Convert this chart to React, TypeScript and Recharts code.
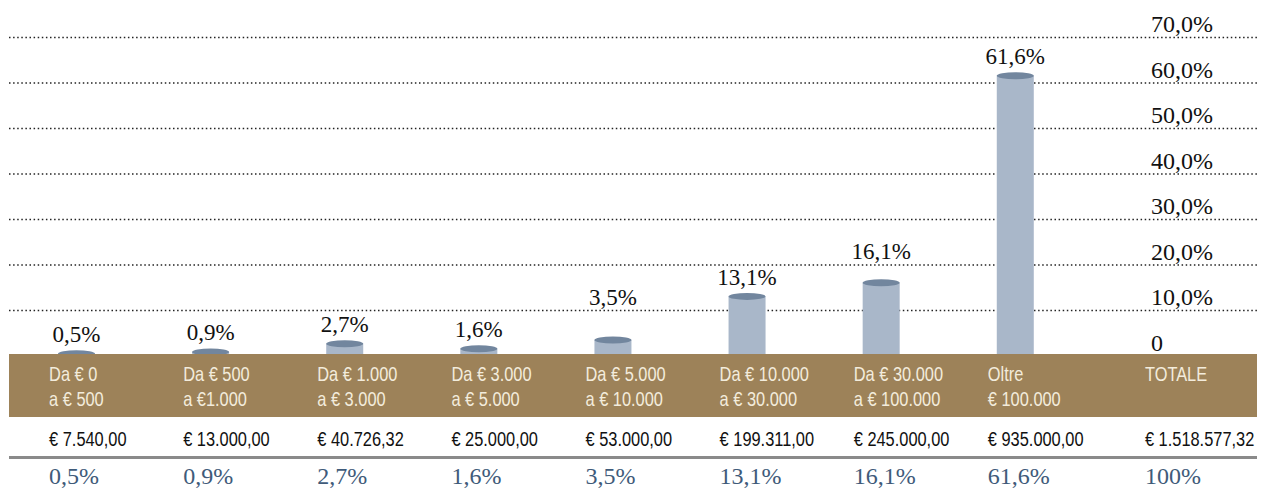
import { BarChart, Bar, XAxis, YAxis, CartesianGrid, ReferenceArea, LabelList } from 'recharts'

// ranges, amounts and shares
const rangeLines = [
  ['Da € 0', 'a € 500'],
  ['Da € 500', 'a €1.000'],
  ['Da € 1.000', 'a € 3.000'],
  ['Da € 3.000', 'a € 5.000'],
  ['Da € 5.000', 'a € 10.000'],
  ['Da € 10.000', 'a € 30.000'],
  ['Da € 30.000', 'a € 100.000'],
  ['Oltre', '€ 100.000'],
  ['TOTALE', ''],
]
const amounts = [
  '€ 7.540,00', '€ 13.000,00', '€ 40.726,32', '€ 25.000,00', '€ 53.000,00',
  '€ 199.311,00', '€ 245.000,00', '€ 935.000,00', '€ 1.518.577,32',
]
const shares = [0.5, 0.9, 2.7, 1.6, 3.5, 13.1, 16.1, 61.6, 100]
const isTotal = [false, false, false, false, false, false, false, false, true]
const yTicks = [0, 10, 20, 30, 40, 50, 60, 70]

const rows = rangeLines.map((l, i) => ({
  name: l.join(' '),
  share: isTotal[i] ? null : shares[i],
}))

// layout (pixels)
const W = 1261
const H = 488
const Y_TOP = 37.5
const Y_ZERO = 356
const PLOT_BOTTOM = 462
const PX = (Y_ZERO - Y_TOP) / 70
const valueAt = (py: number) => (Y_ZERO - py) / PX
const pyOf = (v: number) => Y_ZERO - v * PX

const SERIF = '"Liberation Serif", "Times New Roman", serif'
const SANS = '"Liberation Sans", Arial, sans-serif'
const BAND = '#9d8259'
const BAR_BODY = '#a9b7c9'
const BAR_TOP = '#72869e'

const pct = (v: number) => (v === 100 ? '100%' : v.toFixed(1).replace('.', ',') + '%')

function Cylinder(props: any) {
  const { x, y, width, height } = props
  if (!height || height <= 0) return null
  const ry = 3.5
  return (
    <g>
      <rect x={x} y={y} width={width} height={height} fill={BAR_BODY} />
      <ellipse cx={x + width / 2} cy={y} rx={width / 2} ry={ry} fill={BAR_TOP} />
    </g>
  )
}

function BarValue(props: any) {
  const { x, y, width, value } = props
  if (value == null) return null
  let base = y - 11.5
  // keep the label off the dotted lines
  for (const t of yTicks) {
    const gy = pyOf(t)
    if (gy > base - 15 - 4 && gy < base + 3) base = gy - 6
  }
  return (
    <text x={x + width / 2} y={base} textAnchor="middle" fontFamily={SERIF} fontSize={23} fill="#111">
      {pct(value)}
    </text>
  )
}

function YTick(props: any) {
  const { x, y, payload } = props
  const v = payload.value
  return (
    <text x={x - 106} y={y - 5.5} fontFamily={SERIF} fontSize={24} fill="#111">
      {v === 0 ? '0' : v.toFixed(1).replace('.', ',') + '%'}
    </text>
  )
}

// condensed sans text (no narrow face installed, so squeeze Liberation Sans)
function Narrow({ x, y, fill, children }: { x: number; y: number; fill: string; children: string }) {
  return (
    <text transform={`translate(${x},${y}) scale(0.8,1)`} fontFamily={SANS} fontSize={20.5} fill={fill}>
      {children}
    </text>
  )
}

function ColumnTick(props: any) {
  const { x, y, index } = props
  const x0 = x - 27 + (isTotal[index] ? 23 : 0)
  const [l1, l2] = rangeLines[index]
  return (
    <g>
      <Narrow x={x0} y={y - 81} fill="#f3ecdc">{l1}</Narrow>
      <Narrow x={x0} y={y - 56} fill="#f3ecdc">{l2}</Narrow>
      <Narrow x={x0} y={y - 16} fill="#111">{amounts[index]}</Narrow>
      <text x={x0} y={y + 22} fontFamily={SERIF} fontSize={24} fill="#3f5b7a">{pct(shares[index])}</text>
    </g>
  )
}

export default function App() {
  return (
    <div style={{ position: 'absolute', left: 0, top: 0, width: W, height: H, background: '#fff' }}>
      <BarChart width={W} height={H} data={rows} margin={{ top: Y_TOP, right: 3, left: 9, bottom: 0 }} barSize={37}>
        <CartesianGrid vertical={false} horizontalPoints={yTicks.map(pyOf)}
          stroke="#222" strokeWidth={1.5} strokeDasharray="1.5 2.6" />
        <XAxis dataKey="name" interval={0} axisLine={false} tickLine={false} tickSize={0} tickMargin={0}
          height={H - PLOT_BOTTOM} padding={{ left: 0, right: 41 }} tick={<ColumnTick />} />
        <XAxis xAxisId="full" type="number" domain={[0, 1]} hide />
        <YAxis orientation="right" width={1} domain={[valueAt(PLOT_BOTTOM), 70]} ticks={yTicks}
          allowDataOverflow axisLine={false} tickLine={false} tickSize={0} tickMargin={0} tick={<YTick />} />
        <Bar dataKey="share" shape={<Cylinder />} isAnimationActive={false}>
          <LabelList dataKey="share" content={<BarValue />} />
        </Bar>
        <ReferenceArea xAxisId="full" y1={valueAt(417)} y2={valueAt(354)}
          fill={BAND} fillOpacity={1} stroke="none" ifOverflow="visible" zIndex={350} />
        <ReferenceArea xAxisId="full" y1={valueAt(459)} y2={valueAt(456)}
          fill="#8a8a8a" fillOpacity={1} stroke="none" ifOverflow="visible" />
      </BarChart>
    </div>
  )
}
